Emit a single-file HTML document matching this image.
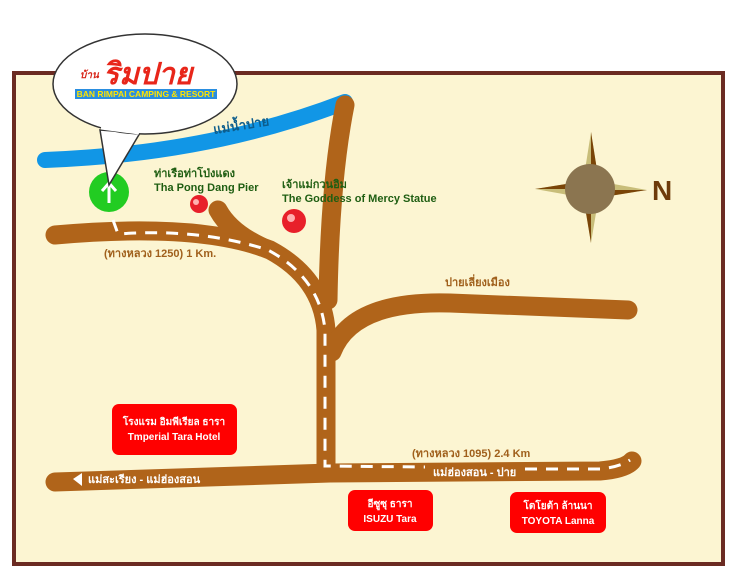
<!DOCTYPE html>
<html><head><meta charset="utf-8"><style>
html,body{margin:0;padding:0;background:#fff;width:740px;height:579px;overflow:hidden}
svg{display:block}
text{font-family:"Liberation Sans","Noto Sans CJK SC",sans-serif;font-weight:bold}
</style></head><body>
<svg width="740" height="579" viewBox="0 0 740 579" xmlns="http://www.w3.org/2000/svg">
<rect x="14" y="73" width="709" height="491" fill="#fcf5d2" stroke="#6b2b22" stroke-width="4"/>
<!-- river -->
<path d="M45,160 Q210,154 345,102" fill="none" stroke="#1196e6" stroke-width="16" stroke-linecap="round"/>
<text x="214" y="134" font-size="13" fill="#0d5d8c" transform="rotate(-9 214 134)">แม่น้ำปาย</text>
<!-- roads -->
<g fill="none" stroke="#b0641a" stroke-width="19" stroke-linecap="round">
<path d="M55,235 Q200,222 270,250 Q322,278 326,330 L326,470"/>
<path d="M218,210 Q230,232 262,247"/>
<path d="M345,105 Q330,180 328,300"/>
<path d="M332,352 Q352,300 450,303 L628,310"/>
<path d="M55,482 L330,473 L600,471 Q625,469 632,461"/>
</g>
<g fill="none" stroke="#fff" stroke-width="3" stroke-dasharray="12,9">
<path d="M113,220 L118,234 Q200,228 268,250 Q320,278 325,330 L325,466 L425,467"/>
<path d="M525,469 L600,469 Q620,467 630,460"/>
</g>
<!-- compass -->
<g>
<polygon points="591,132 600,189 582,189" fill="#c8bd79"/>
<polygon points="591,132 600,189 591,189" fill="#7a4508"/>
<polygon points="647,190 591,180 591,199" fill="#c8bd79"/>
<polygon points="647,190 591,199 591,190" fill="#7a4508"/>
<polygon points="591,243 582,189 600,189" fill="#c8bd79"/>
<polygon points="591,243 582,189 591,189" fill="#7a4508"/>
<polygon points="535,189 591,180 591,199" fill="#c8bd79"/>
<polygon points="535,189 591,180 591,189" fill="#7a4508"/>
<circle cx="590" cy="189" r="25" fill="#8b7550"/>
<text x="652" y="200" font-size="28" fill="#6e3b0a">N</text>
</g>
<!-- markers -->
<circle cx="109" cy="192" r="20" fill="#22cc22"/>
<path d="M109,203 L109,184 M102,191 L109,183 L116,191" stroke="#fff" stroke-width="3" fill="none"/>
<circle cx="199" cy="204" r="9" fill="#e8202a"/>
<circle cx="294" cy="221" r="12" fill="#e8202a"/>
<circle cx="196" cy="202" r="3" fill="#ffb0b0"/>
<circle cx="291" cy="218" r="4" fill="#ffb0b0"/>
<text x="154" y="177" font-size="11" fill="#1f5e12">ท่าเรือท่าโป่งแดง</text>
<text x="154" y="191" font-size="11" fill="#1f5e12">Tha Pong Dang Pier</text>
<text x="282" y="188" font-size="11" fill="#1f5e12">เจ้าแม่กวนอิม</text>
<text x="282" y="202" font-size="11" fill="#1f5e12">The Goddess of Mercy Statue</text>
<text x="104" y="257" font-size="11" fill="#a0601c">(ทางหลวง 1250) 1 Km.</text>
<text x="445" y="286" font-size="11" fill="#a0601c">ปายเลี่ยงเมือง</text>
<text x="412" y="457" font-size="11" fill="#a0601c">(ทางหลวง 1095) 2.4 Km</text>
<polygon points="73,479 82,473 82,486" fill="#fff"/>
<text x="88" y="483" font-size="11" fill="#fff">แม่สะเรียง - แม่ฮ่องสอน</text>
<text x="433" y="476" font-size="11" fill="#fff">แม่ฮ่องสอน - ปาย</text>
<!-- red boxes -->
<rect x="112" y="404" width="125" height="51" rx="7" fill="#ff0000"/>
<text x="174" y="425" font-size="10" fill="#fff" text-anchor="middle">โรงแรม อิมพีเรียล ธารา</text>
<text x="174" y="440" font-size="10" fill="#fff" text-anchor="middle">Tmperial Tara Hotel</text>
<rect x="348" y="490" width="85" height="41" rx="7" fill="#ff0000"/>
<text x="390" y="507" font-size="10" fill="#fff" text-anchor="middle">อีซูซุ  ธารา</text>
<text x="390" y="522" font-size="10" fill="#fff" text-anchor="middle">ISUZU Tara</text>
<rect x="510" y="492" width="96" height="41" rx="7" fill="#ff0000"/>
<text x="558" y="509" font-size="10" fill="#fff" text-anchor="middle">โตโยต้า ล้านนา</text>
<text x="558" y="524" font-size="10" fill="#fff" text-anchor="middle">TOYOTA Lanna</text>
<!-- speech bubble -->
<path d="M100,130 L109,185 L140,133 Z" fill="#fff" stroke="#333" stroke-width="1.5"/>
<ellipse cx="145" cy="84" rx="92" ry="50" fill="#fff" stroke="#333" stroke-width="1.5"/>
<path d="M101,128 L139,133" stroke="#fff" stroke-width="3"/>
<text x="80" y="78" font-size="10" fill="#d8261a" font-style="italic">บ้าน</text>
<text x="103" y="84" font-size="30" fill="#e8261a" font-style="italic">ริมปาย</text>
<rect x="75" y="89" width="142" height="10" fill="#2a8ee0"/>
<text x="146" y="97" font-size="8.5" fill="#ffe400" text-anchor="middle">BAN RIMPAI CAMPING &amp; RESORT</text>
</svg>
</body></html>
